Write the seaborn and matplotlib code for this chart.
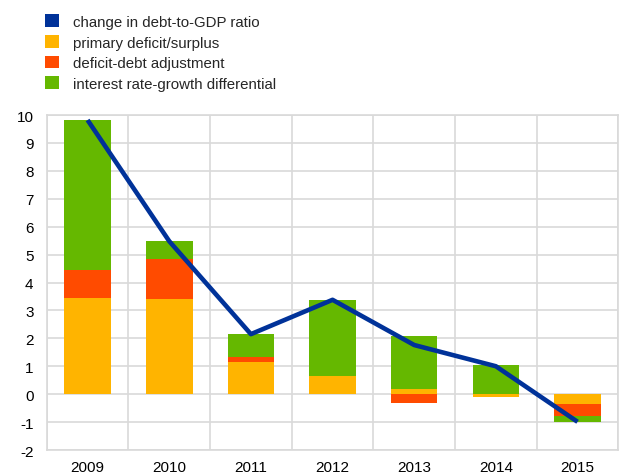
import numpy as np
import matplotlib
matplotlib.use("Agg")
import matplotlib.pyplot as plt
import seaborn as sns
from matplotlib.patches import Patch

years = ["2009", "2010", "2011", "2012", "2013", "2014", "2015"]
primary = [3.44, 3.42, 1.17, 0.66, 0.17, -0.10, -0.36]
dda = [1.02, 1.41, 0.17, 0.00, -0.32, 0.00, -0.42]
irg = [5.36, 0.66, 0.80, 2.70, 1.91, 1.06, -0.20]
change = [9.82, 5.48, 2.15, 3.38, 1.76, 1.00, -0.99]

labels = ["change in debt-to-GDP ratio", "primary deficit/surplus",
          "deficit-debt adjustment", "interest rate-growth differential"]
colors = ["#003299", "#FFB400", "#FF4B00", "#65B800"]

sns.set_theme(style="white")
plt.rcParams["font.family"] = ["Liberation Sans", "DejaVu Sans"]
plt.rcParams["axes.unicode_minus"] = False

fig = plt.figure(figsize=(6.19, 4.77), dpi=100)
ax = fig.add_axes([0.0755, 0.0545, 0.9235, 0.7023])

pos_base = np.zeros(len(years))
neg_base = np.zeros(len(years))
for vals, col in zip([primary, dda, irg], colors[1:]):
    v = np.array(vals)
    bottoms = np.where(v >= 0, pos_base, neg_base)
    sns.barplot(x=years, y=v, bottom=bottoms, color=col, width=0.57,
                ax=ax, saturation=1, edgecolor="none", linewidth=0)
    pos_base = pos_base + np.where(v > 0, v, 0)
    neg_base = neg_base + np.where(v < 0, v, 0)

sns.lineplot(x=np.arange(len(years)), y=change, color=colors[0], linewidth=3.3,
             ax=ax, solid_capstyle="butt", zorder=5)

ax.set_xlim(-0.5, len(years) - 0.5)
ax.set_ylim(-2, 10)
ax.set_yticks(range(-2, 11))
ax.set_xticks(range(len(years)))
ax.set_xticklabels(years)
ax.set_xticks(np.arange(-0.5, len(years), 1.0), minor=True)
ax.grid(False)
ax.yaxis.grid(True, color="#d9d9d9", linewidth=1.2)
ax.xaxis.grid(True, which="minor", color="#d9d9d9", linewidth=1.2)
ax.set_axisbelow(True)
for s in ax.spines.values():
    s.set_color("#d9d9d9")
    s.set_linewidth(1.2)
ax.tick_params(axis="both", which="both", length=0, labelsize=11, colors="#000000")
ax.tick_params(axis="y", pad=9.5)
ax.tick_params(axis="x", pad=7)
ax.set_xlabel("")
ax.set_ylabel("")

handles = [Patch(facecolor=c, edgecolor="none") for c in colors]
fig.legend(handles, labels, loc="upper left", bbox_to_anchor=(0.055, 0.99),
           frameon=False, fontsize=10.8, handlelength=0.95, handleheight=0.95,
           handletextpad=0.95, labelspacing=0.4, borderaxespad=0.3)

fig.savefig("out.png", dpi=100)
